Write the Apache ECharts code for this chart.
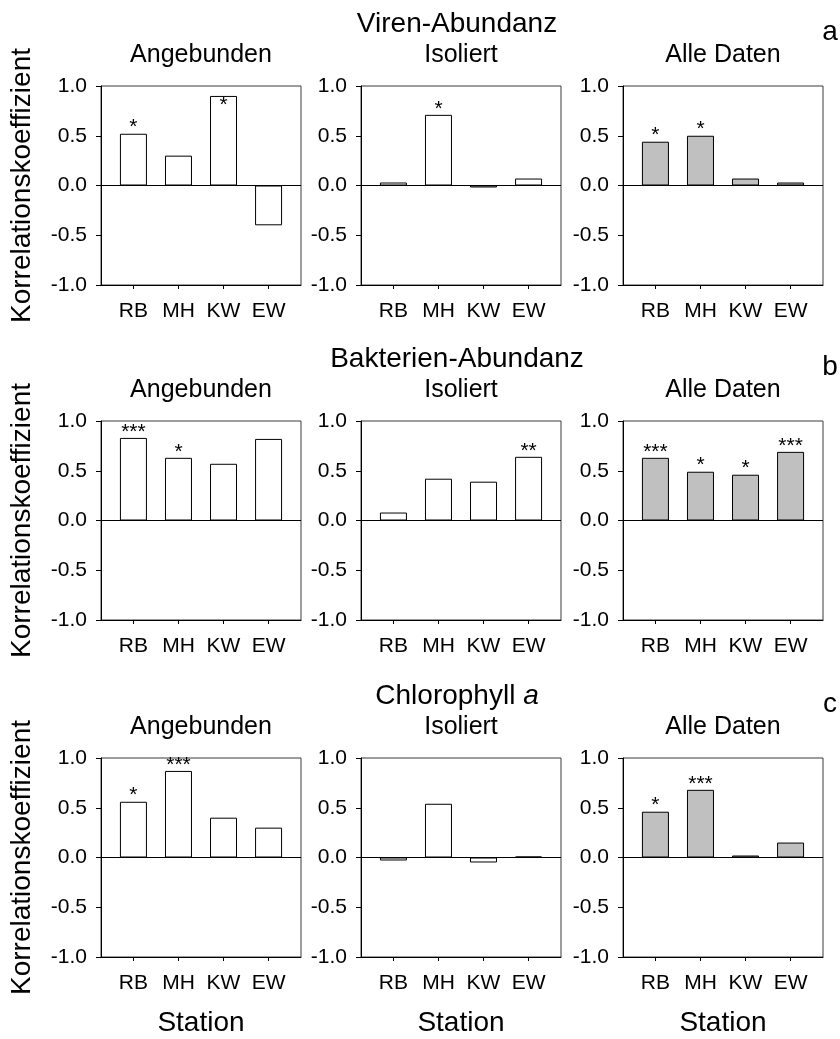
<!DOCTYPE html>
<html><head><meta charset="utf-8">
<script src="https://cdn.jsdelivr.net/npm/echarts@6/dist/echarts.min.js"></script>
<style>html,body{margin:0;padding:0;background:#fff}#c{width:840px;height:1039px}</style>
</head><body><div id="c"></div>
<script>
// ---------------- data ----------------
const stations = ['RB', 'MH', 'KW', 'EW'];
const yTickValues = [-1, -0.5, 0, 0.5, 1];
const yTickLabels = ['-1.0', '-0.5', '0.0', '0.5', '1.0'];
const rowTitleParts = [['Viren-Abundanz', ''], ['Bakterien-Abundanz', ''], ['Chlorophyll ', 'a']];
const rowLetters = ['a', 'b', 'c'];
const colTitles = ['Angebunden', 'Isoliert', 'Alle Daten'];
const xAxisTitle = 'Station';
const yAxisTitle = 'Korrelationskoeffizient';

const virenAngebunden = [0.52, 0.30, 0.90, -0.40];
const virenIsoliert = [0.03, 0.71, -0.02, 0.07];
const virenAlle = [0.44, 0.50, 0.07, 0.03];
const bakterienAngebunden = [0.83, 0.63, 0.57, 0.82];
const bakterienIsoliert = [0.08, 0.42, 0.39, 0.64];
const bakterienAlle = [0.63, 0.49, 0.46, 0.69];
const chlAngebunden = [0.56, 0.87, 0.40, 0.30];
const chlIsoliert = [-0.03, 0.54, -0.05, 0.01];
const chlAlle = [0.46, 0.68, 0.02, 0.15];

const sigVirenAngebunden = ['*', '', '*', ''];
const sigVirenIsoliert = ['', '*', '', ''];
const sigVirenAlle = ['*', '*', '', ''];
const sigBakAngebunden = ['***', '*', '', ''];
const sigBakIsoliert = ['', '', '', '**'];
const sigBakAlle = ['***', '*', '*', '***'];
const sigChlAngebunden = ['*', '***', '', ''];
const sigChlIsoliert = ['', '', '', ''];
const sigChlAlle = ['*', '***', '', ''];

// ---------------- layout ----------------
const panels = [
  [virenAngebunden, virenIsoliert, virenAlle],
  [bakterienAngebunden, bakterienIsoliert, bakterienAlle],
  [chlAngebunden, chlIsoliert, chlAlle]
];
const sigs = [
  [sigVirenAngebunden, sigVirenIsoliert, sigVirenAlle],
  [sigBakAngebunden, sigBakIsoliert, sigBakAlle],
  [sigChlAngebunden, sigChlIsoliert, sigChlAlle]
];
const FONT = '"Liberation Sans", Arial, Helvetica, sans-serif';
const colLeft = [101, 361, 623];
const rowTop = [86, 421, 758];
const W = 200, H = 199;
const fills = ['#ffffff', '#ffffff', '#c0c0c0'];

const grids = [], xAxes = [], yAxes = [], series = [], graphics = [];
let k = 0;
for (let r = 0; r < 3; r++) {
  for (let c = 0; c < 3; c++) {
    grids.push({left: colLeft[c], top: rowTop[r], width: W, height: H, show: true,
      borderColor: '#3a3a3a', borderWidth: 1, backgroundColor: 'transparent', containLabel: false});
    xAxes.push({type: 'value', gridIndex: k, min: -0.72, max: 3.72,
      axisLine: {show: true, onZero: false, lineStyle: {color: '#000', width: 1}},
      axisTick: {show: true, length: 4, customValues: [0, 1, 2, 3], lineStyle: {color: '#000'}},
      axisLabel: {show: true, customValues: [0, 1, 2, 3], margin: 16, formatter: v => stations[Math.round(v)],
        fontFamily: FONT, fontSize: 21, lineHeight: 21, color: '#000'},
      splitLine: {show: false}});
    yAxes.push({type: 'value', gridIndex: k, min: -1, max: 1, interval: 0.5,
      axisLine: {show: true, onZero: false, lineStyle: {color: '#000', width: 1}},
      axisTick: {show: true, length: 5, lineStyle: {color: '#000'}},
      axisLabel: {show: true, margin: 14, formatter: v => yTickLabels[yTickValues.indexOf(v)],
        fontFamily: FONT, fontSize: 21, color: '#000'},
      splitLine: {show: false}});
    const vals = panels[r][c], sg = sigs[r][c];
    series.push({type: 'bar', xAxisIndex: k, yAxisIndex: k, barWidth: 27,
      itemStyle: {color: fills[c], borderColor: '#000', borderWidth: 1},
      data: vals.map((v, i) => ({value: [i, v], label: {
        show: sg[i] !== '', formatter: sg[i], position: 'top',
        offset: [0, v > 0.88 ? 24.7 : 9.4], fontFamily: FONT, fontSize: 21, lineHeight: 21, color: '#000'}})),
      markLine: {silent: true, symbol: 'none', label: {show: false}, animation: false,
        lineStyle: {color: '#000', width: 1, type: 'solid'}, data: [{yAxis: 0}]}
    });
    // subtitle
    graphics.push({type: 'text', x: colLeft[c] + W / 2, y: rowTop[r] - 30.5,
      style: {text: colTitles[c], fontFamily: FONT, fontSize: 25, fill: '#000', align: 'center', verticalAlign: 'middle'}});
    if (r === 2) {
      graphics.push({type: 'text', x: colLeft[c] + W / 2, y: rowTop[r] + H + 66.5,
        style: {text: xAxisTitle, fontFamily: FONT, fontSize: 28, fill: '#000', align: 'center', verticalAlign: 'middle'}});
    }
    k++;
  }
  // row title
  const parts = rowTitleParts[r];
  graphics.push({type: 'text', x: colLeft[1] + W / 2 - 4, y: rowTop[r] - 61.7,
    style: {text: '{n|' + parts[0] + '}' + (parts[1] ? '{i|' + parts[1] + '}' : ''),
      align: 'center', verticalAlign: 'middle',
      rich: {n: {fontFamily: FONT, fontSize: 28, fill: '#000', color: '#000'},
             i: {fontFamily: FONT, fontSize: 28, fontStyle: 'italic', fill: '#000', color: '#000'}}}});
  graphics.push({type: 'text', x: 830, y: rowTop[r] - 53.7,
    style: {text: rowLetters[r], fontFamily: FONT, fontSize: 28, fill: '#000', align: 'center', verticalAlign: 'middle'}});
  graphics.push({type: 'text', x: 22.5, y: rowTop[r] + H / 2, rotation: Math.PI / 2,
    style: {text: yAxisTitle, fontFamily: FONT, fontSize: 28, fill: '#000', align: 'center', verticalAlign: 'middle'}});
}

const chart = echarts.init(document.getElementById('c'), null, {renderer: 'canvas'});
chart.setOption({animation: false, backgroundColor: '#fff',
  grid: grids, xAxis: xAxes, yAxis: yAxes, series: series, graphic: graphics});
</script>
</body></html>
